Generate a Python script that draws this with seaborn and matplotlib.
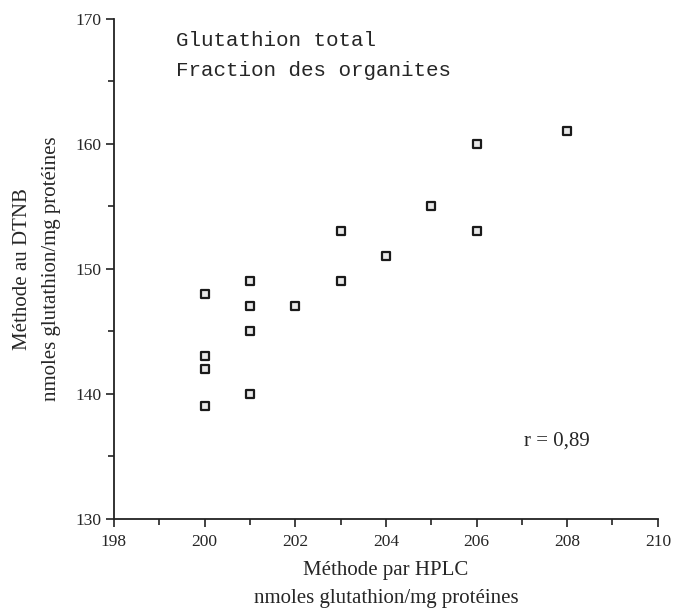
import pandas as pd
import seaborn as sns
import matplotlib
matplotlib.use('Agg')
import matplotlib.pyplot as plt
from matplotlib.ticker import MultipleLocator

# data
hplc = [200, 200, 200, 200, 201, 201, 201, 201, 202, 203, 203, 204, 205, 206, 206, 208]
dtnb = [148, 143, 142, 139, 149, 147, 145, 140, 147, 153, 149, 151, 155, 160, 153, 161]
x_ticks = [198, 200, 202, 204, 206, 208, 210]
y_ticks = [130, 140, 150, 160, 170]

df = pd.DataFrame({'HPLC': hplc, 'DTNB': dtnb})

sns.set_style('ticks')
plt.rcParams['font.family'] = ['Liberation Serif', 'DejaVu Serif']

fig = plt.figure(figsize=(6.74, 6.12), dpi=100)
ax = fig.add_axes([0.169, 0.152, 0.807, 0.817])

sns.scatterplot(data=df, x='HPLC', y='DTNB', ax=ax, marker='s', s=30,
                facecolor='#e8e8e8', edgecolor='#1a1a1a', linewidth=1.6, legend=False)

ax.set_xlim(198, 210)
ax.set_ylim(130, 170)
ax.set_xticks(x_ticks)
ax.set_yticks(y_ticks)
ax.xaxis.set_minor_locator(MultipleLocator(1))
ax.yaxis.set_minor_locator(MultipleLocator(5))
ax.tick_params(which='major', direction='out', length=6, width=1.2, labelsize=12.5, color='#222222')
ax.tick_params(which='minor', direction='out', length=4, width=1.2, color='#222222')
ax.tick_params(axis='x', pad=5)
ax.tick_params(axis='y', pad=3)

for sp in ['top', 'right']:
    ax.spines[sp].set_visible(False)
for sp in ['left', 'bottom']:
    ax.spines[sp].set_linewidth(1.3)
    ax.spines[sp].set_color('#222222')

ax.set_xlabel('Méthode par HPLC\nnmoles glutathion/mg protéines', fontsize=15, linespacing=1.6, labelpad=8)
ax.set_ylabel('Méthode au DTNB\nnmoles glutathion/mg protéines', fontsize=15, linespacing=1.75, labelpad=10)

ax.text(0.115, 0.975, 'Glutathion total\nFraction des organites', transform=ax.transAxes,
        family=['Liberation Mono', 'DejaVu Sans Mono'], fontsize=15, va='top', ha='left',
        linespacing=1.7)
ax.text(207.05, 136.2, 'r = 0,89', fontsize=15, va='center', ha='left')

fig.savefig('out.png', dpi=100)
